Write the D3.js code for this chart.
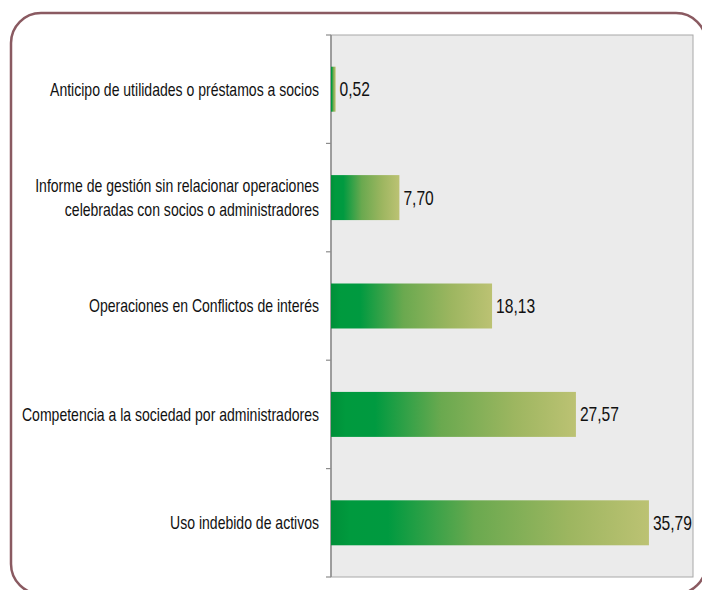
<!DOCTYPE html>
<html>
<head>
<meta charset="utf-8">
<script src="https://cdn.jsdelivr.net/npm/d3@7/dist/d3.min.js"></script>
<style>
  html, body { margin: 0; padding: 0; background: #fff; }
  svg { display: block; }
  text { font-family: "Liberation Sans", Arial, sans-serif; fill: #111; }
</style>
</head>
<body>
<svg id="chart" width="702" height="590"></svg>
<script>
// Categories (top to bottom); long labels split over two lines
const categories = [
  ["Anticipo de utilidades o préstamos a socios"],
  ["Informe de gestión sin relacionar operaciones", "celebradas con socios o administradores"],
  ["Operaciones en Conflictos de interés"],
  ["Competencia a la sociedad por administradores"],
  ["Uso indebido de activos"]
];
const values = [0.52, 7.70, 18.13, 27.57, 35.79];
const valueLabels = ["0,52", "7,70", "18,13", "27,57", "35,79"];

const svg = d3.select("#chart");

// Rounded frame
svg.append("rect")
  .attr("x", 11).attr("y", 13)
  .attr("width", 695).attr("height", 581)
  .attr("rx", 30).attr("ry", 30)
  .attr("fill", "none")
  .attr("stroke", "#8a5a61")
  .attr("stroke-width", 2.5);

const plot = { left: 331, right: 693, top: 35, bottom: 577 };

const x = d3.scaleLinear().domain([0, 40.75]).range([plot.left, plot.right]);
const y = d3.scaleBand()
  .domain(d3.range(categories.length))
  .range([plot.top, plot.bottom])
  .paddingInner(0.585)
  .paddingOuter(0.2925);

// Bar gradient: deep green on the left fading to khaki
const defs = svg.append("defs");
const grad = defs.append("linearGradient")
  .attr("id", "barGrad")
  .attr("x1", "0%").attr("x2", "100%").attr("y1", "0%").attr("y2", "0%");
[["0%", "#008f38"], ["6%", "#009a3e"], ["18%", "#009a40"], ["45%", "#6aa94f"], ["75%", "#9db660"], ["100%", "#bcc273"]]
  .forEach(([o, c]) => grad.append("stop").attr("offset", o).attr("stop-color", c));

// Plot background
svg.append("rect")
  .attr("x", plot.left).attr("y", plot.top)
  .attr("width", plot.right - plot.left).attr("height", plot.bottom - plot.top)
  .attr("fill", "#ebebeb")
  .attr("stroke", "#a8a8a8")
  .attr("stroke-width", 1);

// Category axis with ticks at band boundaries
const boundaries = d3.range(categories.length + 1).map(i => plot.top + i * (plot.bottom - plot.top) / categories.length);
svg.append("line")
  .attr("x1", plot.left).attr("x2", plot.left)
  .attr("y1", plot.top).attr("y2", plot.bottom)
  .attr("stroke", "#8c8c8c").attr("stroke-width", 1.5);
svg.selectAll(".tick")
  .data(boundaries)
  .join("line")
  .attr("class", "tick")
  .attr("x1", plot.left - 5).attr("x2", plot.left)
  .attr("y1", d => d).attr("y2", d => d)
  .attr("stroke", "#8c8c8c").attr("stroke-width", 1.2);

// Bars
svg.selectAll(".bar")
  .data(values)
  .join("rect")
  .attr("class", "bar")
  .attr("x", x(0))
  .attr("y", (d, i) => y(i))
  .attr("width", d => x(d) - x(0))
  .attr("height", y.bandwidth())
  .attr("fill", "url(#barGrad)");

// Condensed type: regular face squeezed horizontally
const squeeze = 0.78;

// Value labels
svg.selectAll(".val")
  .data(values)
  .join("text")
  .attr("class", "val")
  .attr("transform", (d, i) => `translate(${x(d) + 4},${y(i) + y.bandwidth() / 2}) scale(${squeeze},1)`)
  .attr("dy", "0.35em")
  .attr("font-size", 20)
  .text((d, i) => valueLabels[i]);

// Category labels, right-aligned against the axis
const lh = 24;
svg.selectAll(".cat")
  .data(categories)
  .join("text")
  .attr("class", "cat")
  .attr("text-anchor", "end")
  .attr("font-size", 18)
  .attr("transform", (d, i) => `translate(${plot.left - 12},${y(i) + y.bandwidth() / 2}) scale(${squeeze},1)`)
  .each(function(lines) {
    const t = d3.select(this);
    lines.forEach((ln, k) => {
      t.append("tspan")
        .attr("x", 0)
        .attr("dy", k === 0 ? `${0.35 * 18 - (lines.length - 1) * lh / 2}px` : `${lh}px`)
        .text(ln);
    });
  });
</script>
</body>
</html>
